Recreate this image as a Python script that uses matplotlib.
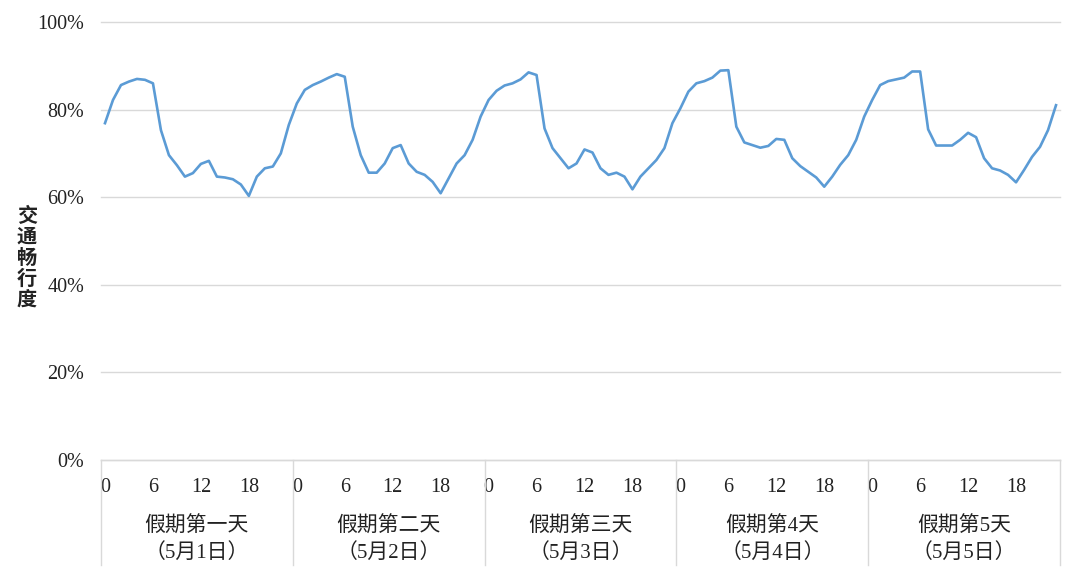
import numpy as np
import matplotlib
matplotlib.use("Agg")
import matplotlib.pyplot as plt
from matplotlib.lines import Line2D
from matplotlib.ticker import PercentFormatter

plt.rcParams['font.family'] = ['Liberation Serif', 'Noto Sans CJK SC', 'DejaVu Sans']

# ====================================================
# 数据：五一假期每日 24 小时交通畅行度
# ====================================================
day_labels = ["假期第一天\n（5月1日）", "假期第二天\n（5月2日）", "假期第三天\n（5月3日）",
              "假期第4天\n（5月4日）", "假期第5天\n（5月5日）"]
hour_ticks = [0, 6, 12, 18]

day1 = [0.769, 0.822, 0.856, 0.864, 0.870, 0.868, 0.860, 0.753, 0.696, 0.673, 0.647, 0.655,
        0.676, 0.683, 0.647, 0.645, 0.641, 0.629, 0.603, 0.647, 0.666, 0.670, 0.700, 0.765]
day2 = [0.814, 0.845, 0.856, 0.864, 0.873, 0.881, 0.875, 0.761, 0.696, 0.656, 0.656, 0.677,
        0.712, 0.719, 0.677, 0.658, 0.651, 0.635, 0.609, 0.643, 0.677, 0.696, 0.731, 0.784]
day3 = [0.822, 0.843, 0.855, 0.860, 0.869, 0.885, 0.879, 0.757, 0.712, 0.689, 0.666, 0.677,
        0.709, 0.702, 0.666, 0.651, 0.656, 0.647, 0.618, 0.647, 0.666, 0.685, 0.712, 0.769]
day4 = [0.803, 0.841, 0.860, 0.865, 0.873, 0.889, 0.890, 0.761, 0.725, 0.719, 0.713, 0.717,
        0.733, 0.731, 0.689, 0.671, 0.658, 0.645, 0.624, 0.647, 0.674, 0.696, 0.731, 0.784]
day5 = [0.822, 0.856, 0.865, 0.869, 0.873, 0.887, 0.887, 0.755, 0.718, 0.718, 0.718, 0.731,
        0.747, 0.737, 0.689, 0.666, 0.661, 0.651, 0.634, 0.662, 0.692, 0.715, 0.753, 0.810]

values = np.array(day1 + day2 + day3 + day4 + day5)
n_days = len(day_labels)
x = np.arange(len(values))

# ====================================================
# 绘图
# ====================================================
W, H = 1080, 577
fig = plt.figure(figsize=(W / 100, H / 100), dpi=100)
ax = fig.add_axes([101 / W, (H - 460) / H, 959 / W, 438 / H])

ax.plot(x, values, color="#5b9bd5", linewidth=1.9, zorder=3)

ax.set_xlim(-0.5, len(values) - 0.5)
ax.set_ylim(0, 1.0)
ax.set_yticks(np.arange(0, 1.01, 0.2))
ax.yaxis.set_major_formatter(PercentFormatter(1.0, decimals=0))
ax.grid(axis="y", color="#d9d9d9", linewidth=1.0, clip_on=False)
ax.set_axisbelow(True)

for s in ["left", "right", "top"]:
    ax.spines[s].set_visible(False)
ax.spines["bottom"].set_color("#d9d9d9")
ax.spines["bottom"].set_linewidth(1.0)

xt = [d * 24 + h for d in range(n_days) for h in hour_ticks]
ax.set_xticks(xt)
ax.set_xticklabels([str(h) for d in range(n_days) for h in hour_ticks])
ax.tick_params(axis="both", length=0, labelsize=14.5, colors="#222222")
ax.tick_params(axis="x", pad=13)
ax.tick_params(axis="y", pad=12)

# 日期分组标签与分隔线
bottom = -105 / 438
for d in range(n_days + 1):
    xs = d * 24 - 0.5
    ax.add_line(Line2D([xs, xs], [0, bottom], color="#d9d9d9", linewidth=1.0,
                       transform=ax.get_xaxis_transform(), clip_on=False))
for d, lab in enumerate(day_labels):
    ax.text(d * 24 + 11.5, -80 / 438, lab, transform=ax.get_xaxis_transform(),
            ha="center", va="center", fontsize=15, color="#222222", linespacing=1.45)

fig.text(27 / W, 1 - 257 / H, "\n".join("交通畅行度"), ha="center", va="center",
         fontsize=14.5, fontweight="bold", color="#222222", linespacing=1.0,
         family=["Noto Sans CJK SC", "DejaVu Sans"])

fig.savefig("out.png", dpi=100)
